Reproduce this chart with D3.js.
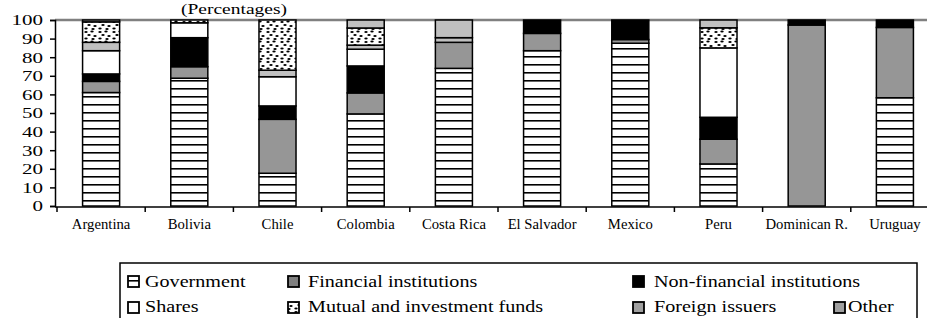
<!DOCTYPE html>
<html>
<head>
<meta charset="utf-8">
<script src="https://cdn.jsdelivr.net/npm/d3@7"></script>
<style>
  body { margin: 0; background: #fff; }
  svg text { font-family: "Times New Roman", Times, "Liberation Serif", "DejaVu Serif", serif; fill: #000; }
</style>
</head>
<body>
<div id="svgchart"></div>
<script>
// values (percentages)
var countries = ['Argentina', 'Bolivia', 'Chile', 'Colombia', 'Costa Rica', 'El Salvador', 'Mexico', 'Peru', 'Dominican R.', 'Uruguay'];
var government   = [61,   68.7, 17.6, 49.5, 74,   83.5, 87.5, 22.6, 0,    58.2];
var financial    = [6,    6.2,  29,   11.3, 14,   9.3,  2,    13.3, 97.3, 37.8];
var nonFinancial = [4,    15.6, 7.2,  14.5, 0,    7.2,  10.5, 11.8, 2.7,  4];
var shares       = [12.5, 8,    15.7, 9,    0,    0,    0,    37.3, 0,    0];
var foreign      = [4.5,  0,    3.5,  2.2,  2.5,  0,    0,    0,    0,    0];
var mutual       = [11,   1.5,  27,   9.2,  0,    0,    0,    10.8, 0,    0];
var other        = [1,    0,    0,    4.3,  9.5,  0,    0,    4.2,  0,    0];
var yTicks = [0, 10, 20, 30, 40, 50, 60, 70, 80, 90, 100];

var keys = ['government', 'financial', 'nonFinancial', 'shares', 'foreign', 'mutual', 'other'];
var series = { government: government, financial: financial, nonFinancial: nonFinancial, shares: shares, foreign: foreign, mutual: mutual, other: other };
var data = countries.map(function (c, i) {
  var row = { country: c };
  keys.forEach(function (k) { row[k] = series[k][i]; });
  return row;
});

var fills = {
  government: 'url(#gov)',
  financial: '#969696',
  nonFinancial: '#000',
  shares: '#fff',
  foreign: '#c0c0c0',
  mutual: 'url(#dots)',
  other: '#c0c0c0'
};

var width = 927, height = 318;
var svg = d3.select('#svgchart').append('svg')
  .attr('width', width)
  .attr('height', height);

// patterns
var defs = svg.append('defs');
var gov = defs.append('pattern').attr('id', 'gov')
  .attr('patternUnits', 'userSpaceOnUse').attr('width', 8).attr('height', 8);
gov.append('rect').attr('width', 8).attr('height', 8).attr('fill', '#fff');
gov.append('rect').attr('y', 0).attr('width', 8).attr('height', 1.6).attr('fill', '#000');

var dots = defs.append('pattern').attr('id', 'dots')
  .attr('patternUnits', 'userSpaceOnUse').attr('width', 14).attr('height', 10);
dots.append('rect').attr('width', 14).attr('height', 10).attr('fill', '#fff');
[[2, 2], [8, 1.5], [5, 5], [11, 6], [2, 8.5], [9, 9]].forEach(function (p) {
  dots.append('ellipse').attr('cx', p[0]).attr('cy', p[1]).attr('rx', 1.7).attr('ry', 1).attr('fill', '#000');
});

var x = d3.scaleBand().domain(countries).range([57, 939]).paddingInner(0.58).paddingOuter(0.29);
var y = d3.scaleLinear().domain([0, 100]).range([206, 20]);

// gray line at 100
svg.append('line')
  .attr('x1', 55).attr('x2', width)
  .attr('y1', y(100)).attr('y2', y(100))
  .attr('stroke', '#808080').attr('stroke-width', 2.5);

// bars
var stacked = d3.stack().keys(keys)(data);
svg.append('g')
  .selectAll('g')
  .data(stacked)
  .enter()
  .append('g')
  .attr('fill', function (d) { return fills[d.key]; })
  .selectAll('rect')
  .data(function (d) { return d.filter(function (s) { return s[1] - s[0] > 0; }); })
  .enter()
  .append('rect')
  .attr('x', function (d) { return x(d.data.country); })
  .attr('y', function (d) { return y(d[1]); })
  .attr('width', x.bandwidth())
  .attr('height', function (d) { return y(d[0]) - y(d[1]); })
  .attr('stroke', '#000')
  .attr('stroke-width', 1.5);

// y axis
var yAxis = svg.append('g')
  .attr('transform', 'translate(55,0)')
  .call(d3.axisLeft(y).tickValues(yTicks).tickSize(5).tickFormat(d3.format('d')));
yAxis.attr('font-family', null).attr('font-size', null);
yAxis.select('.domain').attr('stroke', '#000').attr('stroke-width', 1.5);
yAxis.selectAll('.tick line').attr('stroke', '#000').attr('stroke-width', 1.5);
yAxis.selectAll('.tick text')
  .attr('x', 0)
  .attr('dy', '0.34em')
  .attr('transform', 'translate(-12,0) scale(1.45,1)')
  .attr('font-size', 14.5);

// x axis
svg.append('line')
  .attr('x1', 55).attr('x2', width)
  .attr('y1', 207).attr('y2', 207)
  .attr('stroke', '#000').attr('stroke-width', 1.5);
var bounds = countries.map(function (c) { return x(c) - x.step() * x.paddingInner() / 2; });
bounds.push(x.range()[1]);
svg.append('g').selectAll('line')
  .data(bounds)
  .enter()
  .append('line')
  .attr('x1', function (d) { return d; })
  .attr('x2', function (d) { return d; })
  .attr('y1', 207).attr('y2', 212)
  .attr('stroke', '#000').attr('stroke-width', 1.5);

svg.append('g').selectAll('text')
  .data(countries)
  .enter()
  .append('text')
  .attr('text-anchor', 'middle')
  .attr('transform', function (d) { return 'translate(' + (x(d) + x.bandwidth() / 2) + ',229) scale(1.05,1)'; })
  .attr('font-size', 14)
  .text(function (d) { return d; });

// title (partly above the frame in the original)
svg.append('text')
  .attr('text-anchor', 'middle')
  .attr('transform', 'translate(234,14) scale(1.3,1)')
  .attr('font-size', 15)
  .text('(Percentages)');

// legend
var legendItems = [
  { key: 'government', label: 'Government', mx: 128, tx: 145, row: 0 },
  { key: 'financial', label: 'Financial institutions', mx: 288, tx: 308, row: 0 },
  { key: 'nonFinancial', label: 'Non-financial institutions', mx: 633, tx: 654, row: 0 },
  { key: 'shares', label: 'Shares', mx: 128, tx: 145, row: 1 },
  { key: 'mutual', label: 'Mutual and investment funds', mx: 288, tx: 308, row: 1 },
  { key: 'foreign', label: 'Foreign issuers', mx: 633, tx: 654, row: 1 },
  { key: 'other', label: 'Other', mx: 834, tx: 848, row: 1 }
];
svg.append('rect')
  .attr('x', 120).attr('y', 263)
  .attr('width', 797).attr('height', 70)
  .attr('fill', 'none').attr('stroke', '#000').attr('stroke-width', 1.5);

var leg = svg.append('g').selectAll('g')
  .data(legendItems)
  .enter()
  .append('g');
leg.append('rect')
  .attr('x', function (d) { return d.mx; })
  .attr('y', function (d) { return 276 + d.row * 26; })
  .attr('width', 11).attr('height', 11)
  .attr('fill', function (d) { return d.key === 'foreign' || d.key === 'other' ? '#a0a0a0' : d.key === 'financial' ? '#808080' : fills[d.key]; })
  .attr('stroke', '#000').attr('stroke-width', 1.8);
leg.append('text')
  .attr('transform', function (d) { return 'translate(' + d.tx + ',' + (287 + d.row * 25) + ') scale(1.22,1)'; })
  .attr('font-size', 16.5)
  .text(function (d) { return d.label; });
</script>
</body>
</html>
